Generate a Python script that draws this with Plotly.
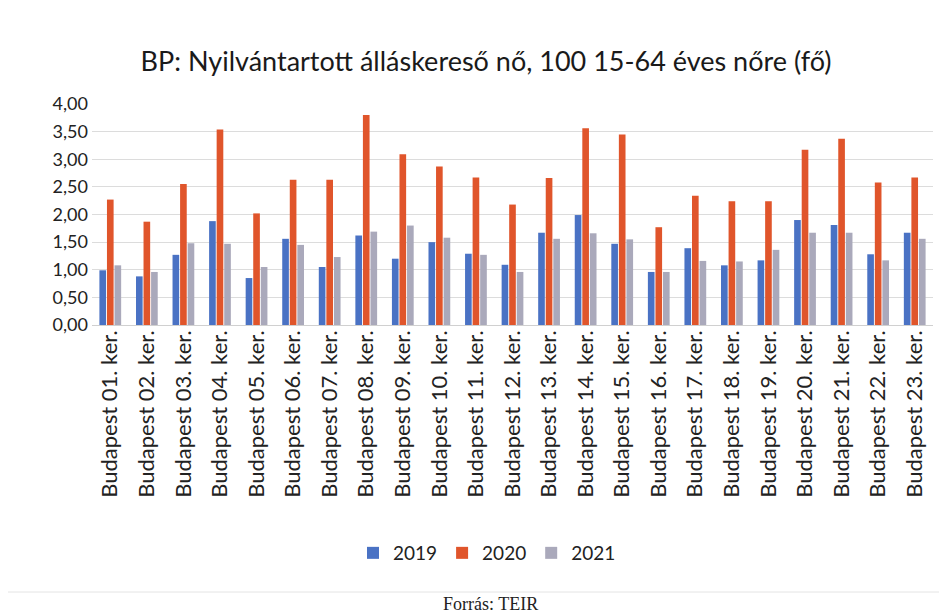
import plotly.graph_objects as go

categories = [f"Budapest {i:02d}. ker." for i in range(1, 24)]
v2019 = [0.99, 0.88, 1.27, 1.88, 0.85, 1.56, 1.05, 1.62, 1.20, 1.50, 1.29, 1.09,
         1.67, 1.99, 1.47, 0.96, 1.39, 1.08, 1.17, 1.90, 1.81, 1.28, 1.67]
v2020 = [2.27, 1.87, 2.55, 3.54, 2.02, 2.63, 2.63, 3.80, 3.09, 2.87, 2.67, 2.18,
         2.66, 3.56, 3.45, 1.77, 2.34, 2.24, 2.24, 3.17, 3.37, 2.58, 2.67]
v2021 = [1.08, 0.96, 1.48, 1.47, 1.05, 1.45, 1.23, 1.69, 1.80, 1.58, 1.27, 0.96,
         1.56, 1.66, 1.55, 0.96, 1.16, 1.15, 1.36, 1.67, 1.67, 1.17, 1.56]
series_names = ["2019", "2020", "2021"]
colors = ["#4a72c4", "#e0552b", "#aaa9bb"]

FONT = "Lato"
OFF = 8  # page body margin
W, H = 947 - OFF, 614 - OFF
L, R, T, B = 92 - OFF, 14, 104 - OFF, 289
pw = W - L - R
ph = H - T - B


def py(y_ref):
    # reference pixel y -> paper y
    return ((H - B) - (y_ref - OFF)) / ph


def px(x_ref):
    return ((x_ref - OFF) - L) / pw


fig = go.Figure()
for name, vals, col in zip(series_names, [v2019, v2020, v2021], colors):
    fig.add_trace(go.Bar(x=categories, y=vals, name=name, marker_color=col,
                         marker_line_width=0))

fig.update_layout(
    width=W, height=H,
    margin=dict(l=L, r=R, t=T, b=B, autoexpand=False),
    paper_bgcolor="white", plot_bgcolor="white",
    separators=", ",
    barmode="group", bargap=0.38, bargroupgap=0.12,
    font=dict(family=FONT, color="#222222", size=17),
    title=dict(text="BP: Nyilvántartott álláskereső nő, 100 15-64 éves nőre (fő)",
               x=(486 - OFF) / W, xanchor="center", y=1 - (62 - OFF) / H,
               yanchor="middle", yref="container",
               font=dict(family=FONT, size=27, color="#1a1a1a")),
    showlegend=True,
    legend=dict(orientation="h", x=px(487), xanchor="center", y=py(553),
                yanchor="middle", font=dict(family=FONT, size=19, color="#222222"),
                traceorder="normal", bgcolor="rgba(0,0,0,0)"),
    xaxis=dict(tickangle=-90, showgrid=False, showline=False, ticks="",
               tickfont=dict(family=FONT, size=22, color="#222222")),
    yaxis=dict(range=[0, 4], dtick=0.5, tickformat=".2f", showgrid=True,
               gridcolor="#dcdcdc", gridwidth=1, zeroline=True,
               zerolinecolor="#d0d0d0", zerolinewidth=1, showline=False,
               tickfont=dict(family=FONT, size=18, color="#222222"),
               ticklabelstandoff=3),
)

fig.add_shape(type="line", xref="paper", yref="paper",
              x0=-L / pw, x1=1 + R / pw, y0=py(592), y1=py(592),
              line=dict(color="#e4e4e4", width=1))
fig.add_annotation(text="Forrás: TEIR", xref="paper", yref="paper",
                   x=px(490), y=py(604), xanchor="center", yanchor="middle",
                   showarrow=False,
                   font=dict(family="Liberation Serif", size=18, color="#222222"))

fig.write_html("out.html")
